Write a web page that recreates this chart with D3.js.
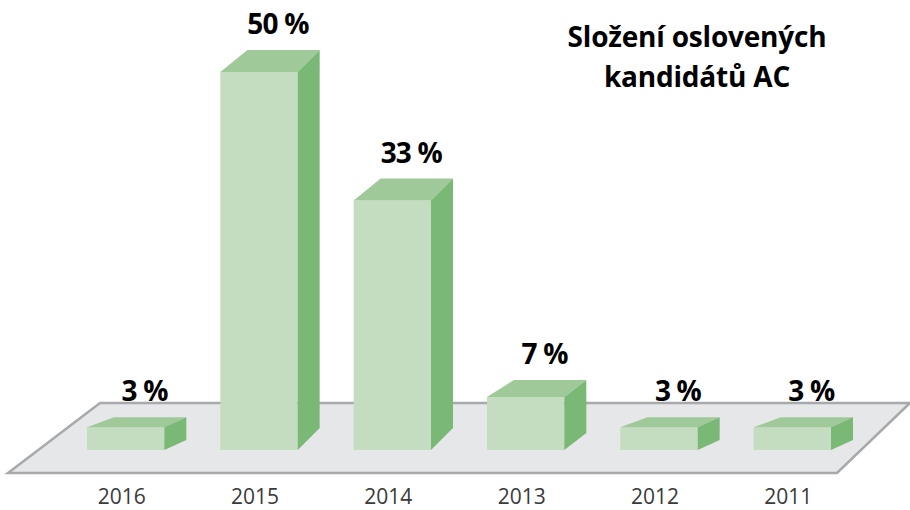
<!DOCTYPE html>
<html>
<head>
<meta charset="utf-8">
<script src="https://cdn.jsdelivr.net/npm/d3@7"></script>
<style>
  body { margin: 0; background: #fff; }
  svg { display: block; }
</style>
</head>
<body>
<div id="chart"></div>
<script>
// data
const years = ["2016", "2015", "2014", "2013", "2012", "2011"]
const shares = [3, 50, 33, 7, 3, 3]
const titleLines = ["Složení oslovených", "kandidátů AC"]

const width = 910
const height = 510
const baseY = 450

const svg = d3.select("#chart").append("svg")
    .attr("width", width)
    .attr("height", height)

const x = d3.scaleBand()
    .domain(years)
    .range([87, 831])
    .paddingInner(0.42)
    .paddingOuter(0)

const h = d3.scaleLinear()
    .domain([0, 50])
    .range([0, 378])

// how much of the top is visible, grows a bit with the bar
const depth = d3.scaleLinear()
    .domain([3, 7, 33])
    .range([10, 17, 22])
    .clamp(true)

const dxR = 22, dxL = 27

// floor
const floor = [[100, 403], [910, 403], [837, 473], [8, 473]]
svg.append("path")
    .attr("d", d3.line()(floor) + "Z")
    .attr("fill", "#e6e7e9")
    .attr("stroke", "#a7a9ac")
    .attr("stroke-width", 2.5)
    .attr("stroke-linejoin", "miter")

const data = years.map((y, i) => ({ year: y, v: shares[i] }))

const bar = svg.selectAll("g.bar")
    .data(data)
  .enter().append("g")
    .attr("class", "bar")

bar.each(function(d) {
  const g = d3.select(this)
  const x0 = x(d.year), x1 = x0 + x.bandwidth()
  const yt = baseY - h(d.v)
  const dy = depth(d.v)
  const line = d3.line()

  g.append("path") // front
    .attr("d", line([[x0, yt], [x1, yt], [x1, baseY], [x0, baseY]]) + "Z")
    .attr("fill", "#c4dcbf")
  g.append("path") // top
    .attr("d", line([[x0, yt], [x1, yt], [x1 + dxR, yt - dy], [x0 + dxL, yt - dy]]) + "Z")
    .attr("fill", "#9fc998")
  g.append("path") // side
    .attr("d", line([[x1, yt], [x1 + dxR, yt - dy], [x1 + dxR, baseY - dy], [x1, baseY]]) + "Z")
    .attr("fill", "#7ab876")

  g.append("text")
    .attr("x", (x0 + x1) / 2 + dxR / 2 + 8)
    .attr("y", yt - dy - 16)
    .attr("text-anchor", "middle")
    .attr("font-family", "'Open Sans', sans-serif")
    .attr("font-weight", "bold")
    .attr("font-size", 28)
    .attr("letter-spacing", -0.8)
    .attr("fill", "#000")
    .text(d.v + " %")
})

// year labels
svg.selectAll("text.year")
    .data(years)
  .enter().append("text")
    .attr("class", "year")
    .attr("x", d => x(d) + x.bandwidth() / 2 - 4)
    .attr("y", 504)
    .attr("text-anchor", "middle")
    .attr("font-family", "'Open Sans', sans-serif")
    .attr("font-size", 21)
    .attr("fill", "#3a3a3a")
    .text(d => d)

// title
svg.append("text")
    .attr("x", 697)
    .attr("text-anchor", "middle")
    .attr("font-family", "'Open Sans', sans-serif")
    .attr("font-weight", "bold")
    .attr("font-size", 28)
    .attr("letter-spacing", -0.2)
    .attr("fill", "#000")
  .selectAll("tspan")
    .data(titleLines)
  .enter().append("tspan")
    .attr("x", 697)
    .attr("y", (d, i) => 47 + i * 40)
    .text(d => d)
</script>
</body>
</html>
